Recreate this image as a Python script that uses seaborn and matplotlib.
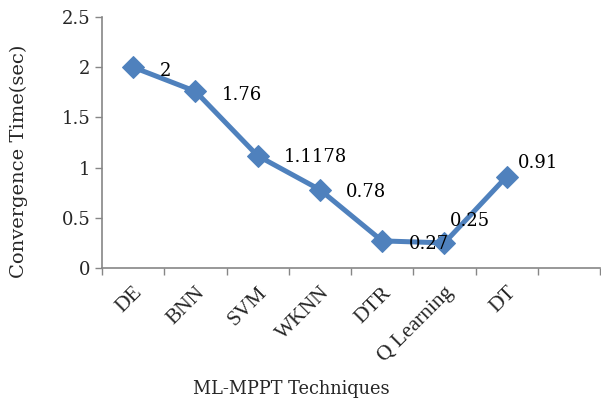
import matplotlib
matplotlib.use("Agg")
import matplotlib.pyplot as plt
import seaborn as sns
import numpy as np
import pandas as pd

categories = ["DE", "BNN", "SVM", "WKNN", "DTR", "Q Learning", "DT"]
values = [2, 1.76, 1.1178, 0.78, 0.27, 0.25, 0.91]
value_labels = ["2", "1.76", "1.1178", "0.78", "0.27", "0.25", "0.91"]
label_offsets = [(19, -3), (19, -3), (19, -1), (19, -2), (19, -2), (4, 16), (8, 10)]
yticks = [0, 0.5, 1, 1.5, 2, 2.5]

sns.set_theme(style="white")
plt.rcParams['font.family'] = ['DejaVu Serif']

color = "#4F81BD"
axis_color = "#868686"
fs = 13

fig = plt.figure(figsize=(6.01, 4.05), dpi=100)
ax = fig.add_axes([102/601, 1-268/405, 498/601, (268-17)/405])

df = pd.DataFrame({"pos": np.arange(len(categories)), "val": values})
sns.lineplot(data=df, x="pos", y="val", ax=ax, color=color, linewidth=3.6,
             marker="D", markersize=11.5, markeredgecolor=color)

for i, (v, lab, off) in enumerate(zip(values, value_labels, label_offsets)):
    ax.annotate(lab, (i, v), xytext=off, textcoords="offset points",
                ha="left", va="center", fontsize=fs, color="black")

ax.set_xlim(-0.5, len(categories) + 0.5)
ax.set_ylim(0, 2.5)
ax.set_yticks(yticks)
ax.set_yticklabels([f"{t:g}" for t in yticks], fontsize=fs)
ax.set_xticks(np.arange(-0.5, len(categories) + 1, 1))
ax.set_xticklabels([])
ax.set_xticks(np.arange(len(categories)), minor=True)
ax.set_xticklabels(categories, minor=True, rotation=45, ha="right",
                   rotation_mode="anchor", fontsize=15.5,
                   family=["Liberation Serif", "DejaVu Serif"])
ax.tick_params(axis="x", which="minor", length=0, pad=11)
ax.tick_params(axis="x", which="major", length=5, color=axis_color, width=1, direction="out", bottom=True)
ax.tick_params(axis="y", length=5, color=axis_color, width=1, direction="out", left=True)

for s in ["top", "right"]:
    ax.spines[s].set_visible(False)
for s in ["left", "bottom"]:
    ax.spines[s].set_color(axis_color)
    ax.spines[s].set_linewidth(1.2)

ax.set_xlabel("")
ax.set_ylabel("")
fig.text(291/601, 1-389/405, "ML-MPPT Techniques", ha="center", va="center", fontsize=12.8)
fig.text(19/601, 1-161/405, "Convergence Time(sec)", ha="center", va="center",
         rotation=90, fontsize=14)

fig.savefig("out.png", dpi=100)
